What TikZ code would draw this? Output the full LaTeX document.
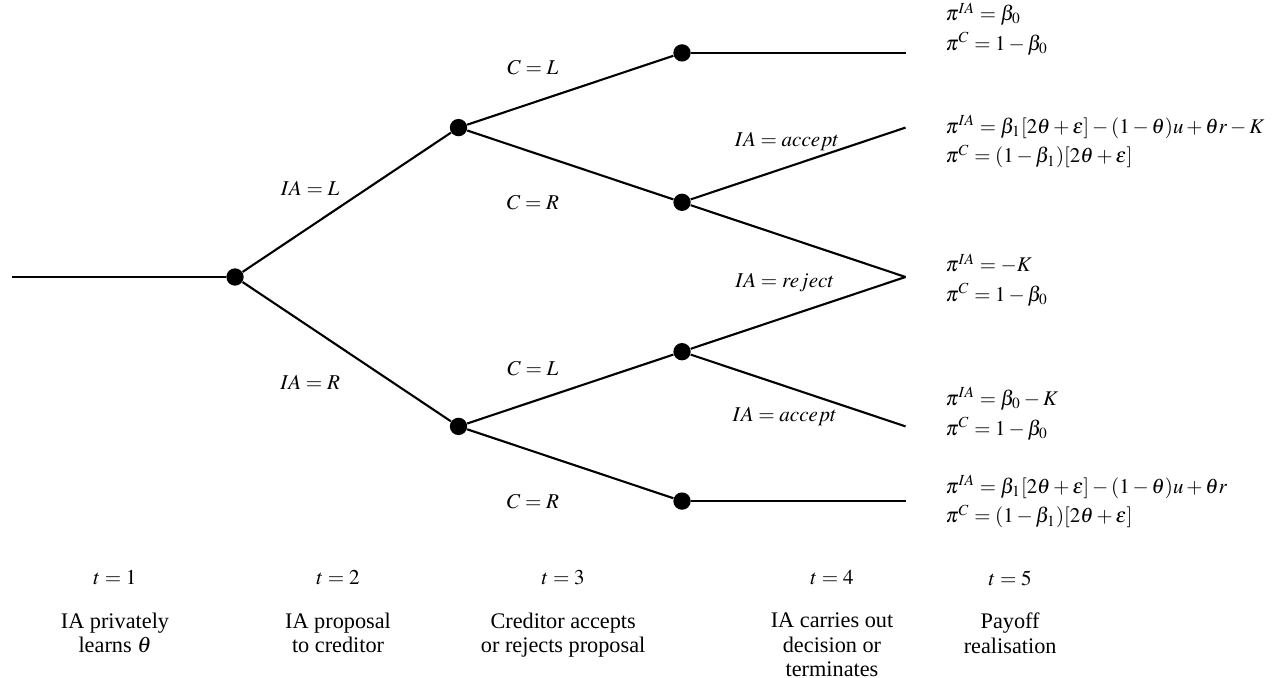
\documentclass[tikz,border=0pt]{standalone}
\usepackage{mathptmx}
\usepackage{fontspec}
\setmainfont{Liberation Serif}
\tikzset{
  dot/.style={circle,fill=black,inner sep=0pt,minimum size=2.6mm},
  branch/.style={line width=0.9pt},
  lab/.style={font=\fontsize{9}{11}\selectfont},
  pay/.style={anchor=west,inner sep=0pt,align=left,font=\fontsize{8.9}{12.6}\selectfont},
  stage/.style={align=center,font=\fontsize{9.5}{10.3}\selectfont},
}
\begin{document}
\begin{tikzpicture}[x=3.3525cm,y=1.1205cm]
\useasboundingbox (-1.0515,-5.355) rectangle (4.653,3.708);

% -- level 1
\coordinate (start) at (-1,0);
\node[dot] (n0) at (0,0) {};

% -- level 2
\node[dot] (nL) at (1,2) {};
\node[dot] (nR) at (1,-2) {};

% -- level 3
\node[dot] (nLL) at (2,3) {};
\node[dot] (nLR) at (2,1) {};
\node[dot] (nRL) at (2,-1) {};
\node[dot] (nRR) at (2,-3) {};

% -- ends
\coordinate (e1) at (3,3);
\coordinate (e2) at (3,2);
\coordinate (e3) at (3,0);
\coordinate (e4) at (3,-2);
\coordinate (e5) at (3,-3);

% -- draw branches
\draw[branch] (start) -- (n0);
\draw[branch] (n0) -- (nL);
\draw[branch] (n0) -- (nR);
\draw[branch] (nL) -- (nLL);
\draw[branch] (nL) -- (nLR);
\draw[branch] (nR) -- (nRL);
\draw[branch] (nR) -- (nRR);
\draw[branch] (nLL) -- (e1);
\draw[branch] (nLR) -- (e2);
\draw[branch] (nLR) -- (e3);
\draw[branch] (nRL) -- (e3);
\draw[branch] (nRL) -- (e4);
\draw[branch] (nRR) -- (e5);

% -- branch labels
\node[lab] (iaL) at (0.336,1.19) {$IA = L$};
\node[lab] (iaR) at (0.336,-1.41) {$IA = R$};
\node[lab] (cL1) at (1.333,2.80) {$C = L$};
\node[lab] (cR1) at (1.333,0.99) {$C = R$};
\node[lab] (cL2) at (1.333,-1.22) {$C = L$};
\node[lab] (cR2) at (1.333,-3.01) {$C = R$};
\node[lab] (acc1) at (2.47,1.81) {$IA = accept$};
\node[lab] (rej) at (2.46,-0.07) {$IA = reject$};
\node[lab] (acc2) at (2.46,-1.87) {$IA = accept$};

% -- payoffs
\node[pay] (p1) at (3.177,3.32) {$\pi^{IA} = \beta_0$\\$\pi^{C} = 1-\beta_0$};
\node[pay] (p2) at (3.177,1.81) {$\pi^{IA} = \beta_1[2\theta+\varepsilon]-(1-\theta)u+\theta r-K$\\$\pi^{C} = (1-\beta_1)[2\theta+\varepsilon]$};
\node[pay] (p3) at (3.177,-0.04) {$\pi^{IA} = -K$\\$\pi^{C} = 1-\beta_0$};
\node[pay] (p4) at (3.177,-1.83) {$\pi^{IA} = \beta_0-K$\\$\pi^{C} = 1-\beta_0$};
\node[pay] (p5) at (3.177,-3.01) {$\pi^{IA} = \beta_1[2\theta+\varepsilon]-(1-\theta)u+\theta r$\\$\pi^{C} = (1-\beta_1)[2\theta+\varepsilon]$};

% -- time line
\node[lab] (t1) at (-0.537,-4.03) {$t = 1$};
\node[lab] (t2) at (0.461,-4.03) {$t = 2$};
\node[lab] (t3) at (1.468,-4.03) {$t = 3$};
\node[lab] (t4) at (2.671,-4.03) {$t = 4$};
\node[lab] (t5) at (3.468,-4.03) {$t = 5$};

\node[stage,anchor=north] (s1) at (-0.537,-4.39) {IA privately\\learns $\theta$};
\node[stage,anchor=north] (s2) at (0.461,-4.39) {IA proposal\\to creditor};
\node[stage,anchor=north] (s3) at (1.468,-4.39) {Creditor accepts\\or rejects proposal};
\node[stage,anchor=north] (s4) at (2.671,-4.39) {IA carries out\\decision or\\terminates};
\node[stage,anchor=north] (s5) at (3.468,-4.39) {Payoff\\realisation};
\end{tikzpicture}
\end{document}
